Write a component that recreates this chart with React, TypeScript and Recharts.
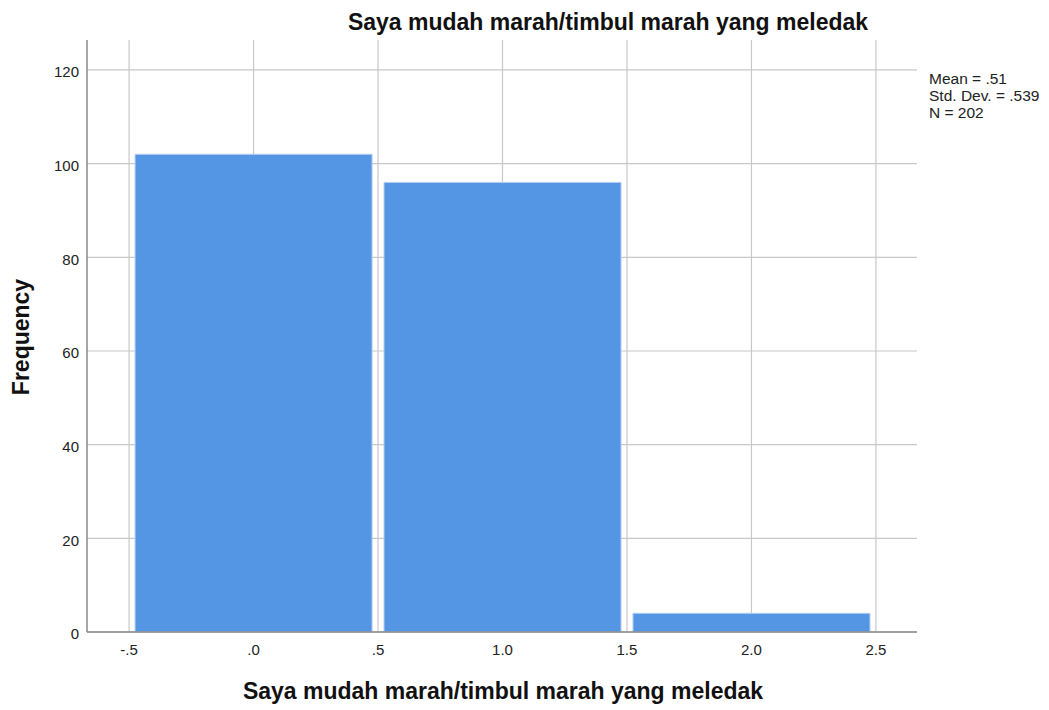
import { Bar, BarChart, CartesianGrid, XAxis, YAxis } from 'recharts'

const binCenters = [0, 1, 2]
const frequencies = [102, 96, 4]
const xTicks = [-0.5, 0, 0.5, 1, 1.5, 2, 2.5]
const yTicks = [0, 20, 40, 60, 80, 100, 120]
const statsLines = ['Mean = .51', 'Std. Dev. = .539', 'N = 202']

const title = 'Saya mudah marah/timbul marah yang meledak'
const font = '"Liberation Sans", Arial, sans-serif'

// SPSS drops the leading zero: .5, -.5, .0, 1.0
const fmtX = (v: number): string => {
  const s = v.toFixed(1)
  if (s.startsWith('0')) return s.slice(1)
  if (s.startsWith('-0')) return '-' + s.slice(2)
  return s
}

export default function App() {
  const data = binCenters.map((x, i) => ({ x, count: frequencies[i] }))

  return (
    <div style={{ position: 'absolute', left: 0, top: 0, width: 1049, height: 710, background: '#fff', fontFamily: font }}>
      <BarChart width={1049} height={710} data={data} margin={{ top: 40, right: 132, bottom: 48, left: 27 }}>
        <CartesianGrid stroke="#c8c8c8" strokeWidth={1.2} verticalValues={xTicks} horizontalValues={yTicks} />
        <XAxis
          dataKey="x"
          type="number"
          domain={[-0.669, 2.665]}
          ticks={xTicks}
          tickFormatter={fmtX}
          allowDataOverflow
          height={30}
          stroke="#8a8a8a"
          strokeWidth={1.5}
          tickLine={false}
          tick={{ fill: '#222', fontSize: 15, fontFamily: font }}
          tickMargin={6}
        />
        <YAxis
          type="number"
          domain={[0, 126.4]}
          ticks={yTicks}
          allowDataOverflow
          width={60}
          stroke="#8a8a8a"
          strokeWidth={1.5}
          tickLine={false}
          tick={{ fill: '#222', fontSize: 15, fontFamily: font, dy: 2 }}
          tickMargin={2}
        />
        <Bar dataKey="count" fill="#5596e4" stroke="#b3cff2" strokeWidth={1} barSize={237} isAnimationActive={false} />
        <text x={608} y={30} textAnchor="middle" fontSize={23} fontWeight="bold" fontFamily={font} fill="#111">
          {title}
        </text>
        <text x={503} y={699} textAnchor="middle" fontSize={23} fontWeight="bold" fontFamily={font} fill="#111">
          {title}
        </text>
        <text
          x={29}
          y={337}
          textAnchor="middle"
          fontSize={23}
          fontWeight="bold"
          fontFamily={font}
          fill="#111"
          transform="rotate(-90 29 337)"
        >
          Frequency
        </text>
        {statsLines.map((line, i) => (
          <text key={line} x={929} y={83.5 + i * 17} fontSize={15.5} fontFamily={font} fill="#222">
            {line}
          </text>
        ))}
      </BarChart>
    </div>
  )
}
